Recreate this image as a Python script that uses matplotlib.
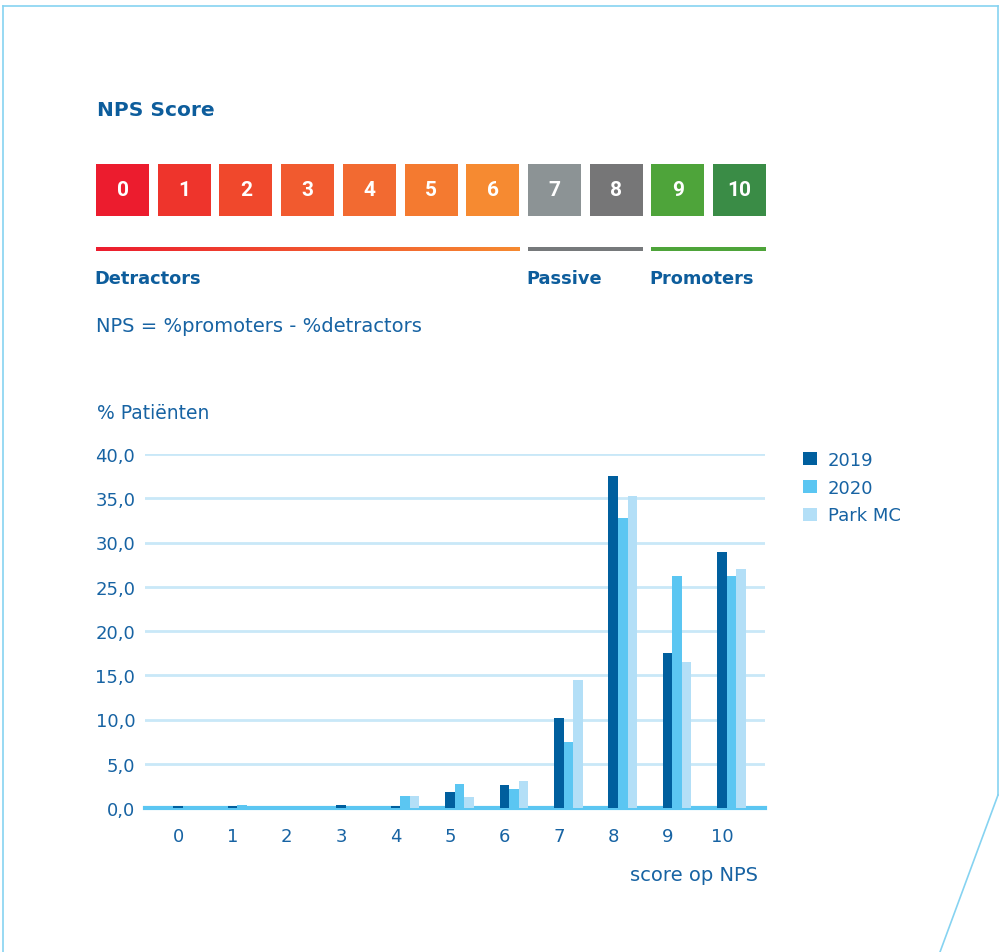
import numpy as np
import matplotlib.pyplot as plt
from matplotlib.patches import Rectangle
from matplotlib.lines import Line2D
from matplotlib.colors import LinearSegmentedColormap

plt.rcParams['font.family'] = ['DejaVu Sans']

# data
scores = [0, 1, 2, 3, 4, 5, 6, 7, 8, 9, 10]
pct_2019 = [0.25, 0.2, 0.0, 0.35, 0.2, 1.8, 2.6, 10.2, 37.5, 17.5, 28.9]
pct_2020 = [0.0, 0.35, 0.0, 0.0, 1.35, 2.7, 2.1, 7.5, 32.8, 26.2, 26.2]
pct_park = [0.0, 0.0, 0.0, 0.0, 1.35, 1.25, 3.05, 14.5, 35.3, 16.5, 27.0]
series_names = ['2019', '2020', 'Park MC']
y_ticks = [0, 5, 10, 15, 20, 25, 30, 35, 40]
score_colors = ['#ec1c2e', '#ee342c', '#f0482c', '#f15a2f', '#f26a31', '#f47a30', '#f68a31',
                '#8c9395', '#767677', '#4ea43a', '#3a8c46']
groups = [('Detractors', 0, 6), ('Passive', 7, 8), ('Promoters', 9, 10)]

W, H = 999, 953
text_blue = '#1763a3'
title_blue = '#0d5d9c'
bar_colors = ['#005f9e', '#5bc6f2', '#b3dff7']

fig = plt.figure(figsize=(W / 100, H / 100), dpi=100)

# overlay in pixel coordinates for the legend graphic and frame
bg = fig.add_axes([0, 0, 1, 1])
bg.set_xlim(0, W)
bg.set_ylim(H, 0)
bg.axis('off')

frame_c = '#86d3f1'
bg.add_line(Line2D([3, 998], [7, 7], color=frame_c, lw=1.2))
bg.add_line(Line2D([3, 3], [7, H], color=frame_c, lw=1.2))
bg.add_line(Line2D([998, 998], [7, 796], color=frame_c, lw=1.2))
bg.add_line(Line2D([998, 940], [796, H], color=frame_c, lw=1.2))

bg.text(97, 110, 'NPS Score', fontsize=14.5, fontweight='bold', color=title_blue,
        va='center', ha='left')

# score boxes
x0, step, bw = 96, 61.7, 53
for i, s in enumerate(scores):
    bx = x0 + i * step
    bg.add_patch(Rectangle((bx, 165), bw, 52, color=score_colors[i], lw=0))
    bg.text(bx + bw / 2, 191, str(s), color='white', fontsize=15, fontweight='bold',
            ha='center', va='center', family='Roboto')

# group bars and labels
cmap = LinearSegmentedColormap.from_list('det', [score_colors[0], score_colors[6]])
for name, a, b in groups:
    left = x0 + a * step
    right = x0 + b * step + bw
    if name == 'Detractors':
        grad = np.linspace(0, 1, 256).reshape(1, -1)
        bg.imshow(grad, cmap=cmap, extent=[left, right, 252, 248], aspect='auto')
    else:
        col = '#76797b' if name == 'Passive' else '#4ea43a'
        bg.add_patch(Rectangle((left, 248), right - left, 4, color=col, lw=0))
    bg.text(left - 2, 279, name, fontsize=12.8, fontweight='bold', color=title_blue,
            ha='left', va='center')
bg.set_xlim(0, W)
bg.set_ylim(H, 0)

bg.text(96, 327, 'NPS = %promoters - %detractors', fontsize=14, color=text_blue,
        ha='left', va='center')
bg.text(97, 414, '% Patiënten', fontsize=13.5, color=text_blue, ha='left', va='center')
bg.text(758, 876, 'score op NPS', fontsize=14, color=text_blue, ha='right', va='center')

# bar chart
ax_l, ax_r, ax_b, ax_t = 145, 765, 809, 455
ax = fig.add_axes([ax_l / W, (H - ax_b) / H, (ax_r - ax_l) / W, (ax_b - ax_t) / H])
ax.set_zorder(2)
ax.patch.set_alpha(0)
x = np.arange(len(scores))
w = 0.175
for k, vals in enumerate([pct_2019, pct_2020, pct_park]):
    ax.bar(x + k * w, vals, width=w, color=bar_colors[k], label=series_names[k], zorder=3)

ax.set_xlim(-0.607, 10.79)
ax.set_ylim(0, 40)
ax.set_yticks(y_ticks)
ax.set_yticklabels([f'{v:.1f}'.replace('.', ',') for v in y_ticks])
ax.set_xticks(x)
ax.set_xticklabels([str(s) for s in scores])
ax.tick_params(axis='both', length=0, labelsize=13, labelcolor=text_blue)
ax.tick_params(axis='y', pad=7)
ax.tick_params(axis='x', pad=14)
for v in y_ticks[1:]:
    ax.axhline(v, color='#c9e8f8', lw=2, zorder=1)
ax.axhline(0, color='#5bc6f2', lw=3, zorder=2, clip_on=False)
for sp in ax.spines.values():
    sp.set_visible(False)

leg = ax.legend(loc='upper left', bbox_to_anchor=(1.05, 1.03), frameon=False,
                fontsize=13, handlelength=0.75, handleheight=0.75, handletextpad=0.6,
                labelspacing=0.55, borderaxespad=0)
for t in leg.get_texts():
    t.set_color(text_blue)

fig.savefig('out.png', dpi=100)
